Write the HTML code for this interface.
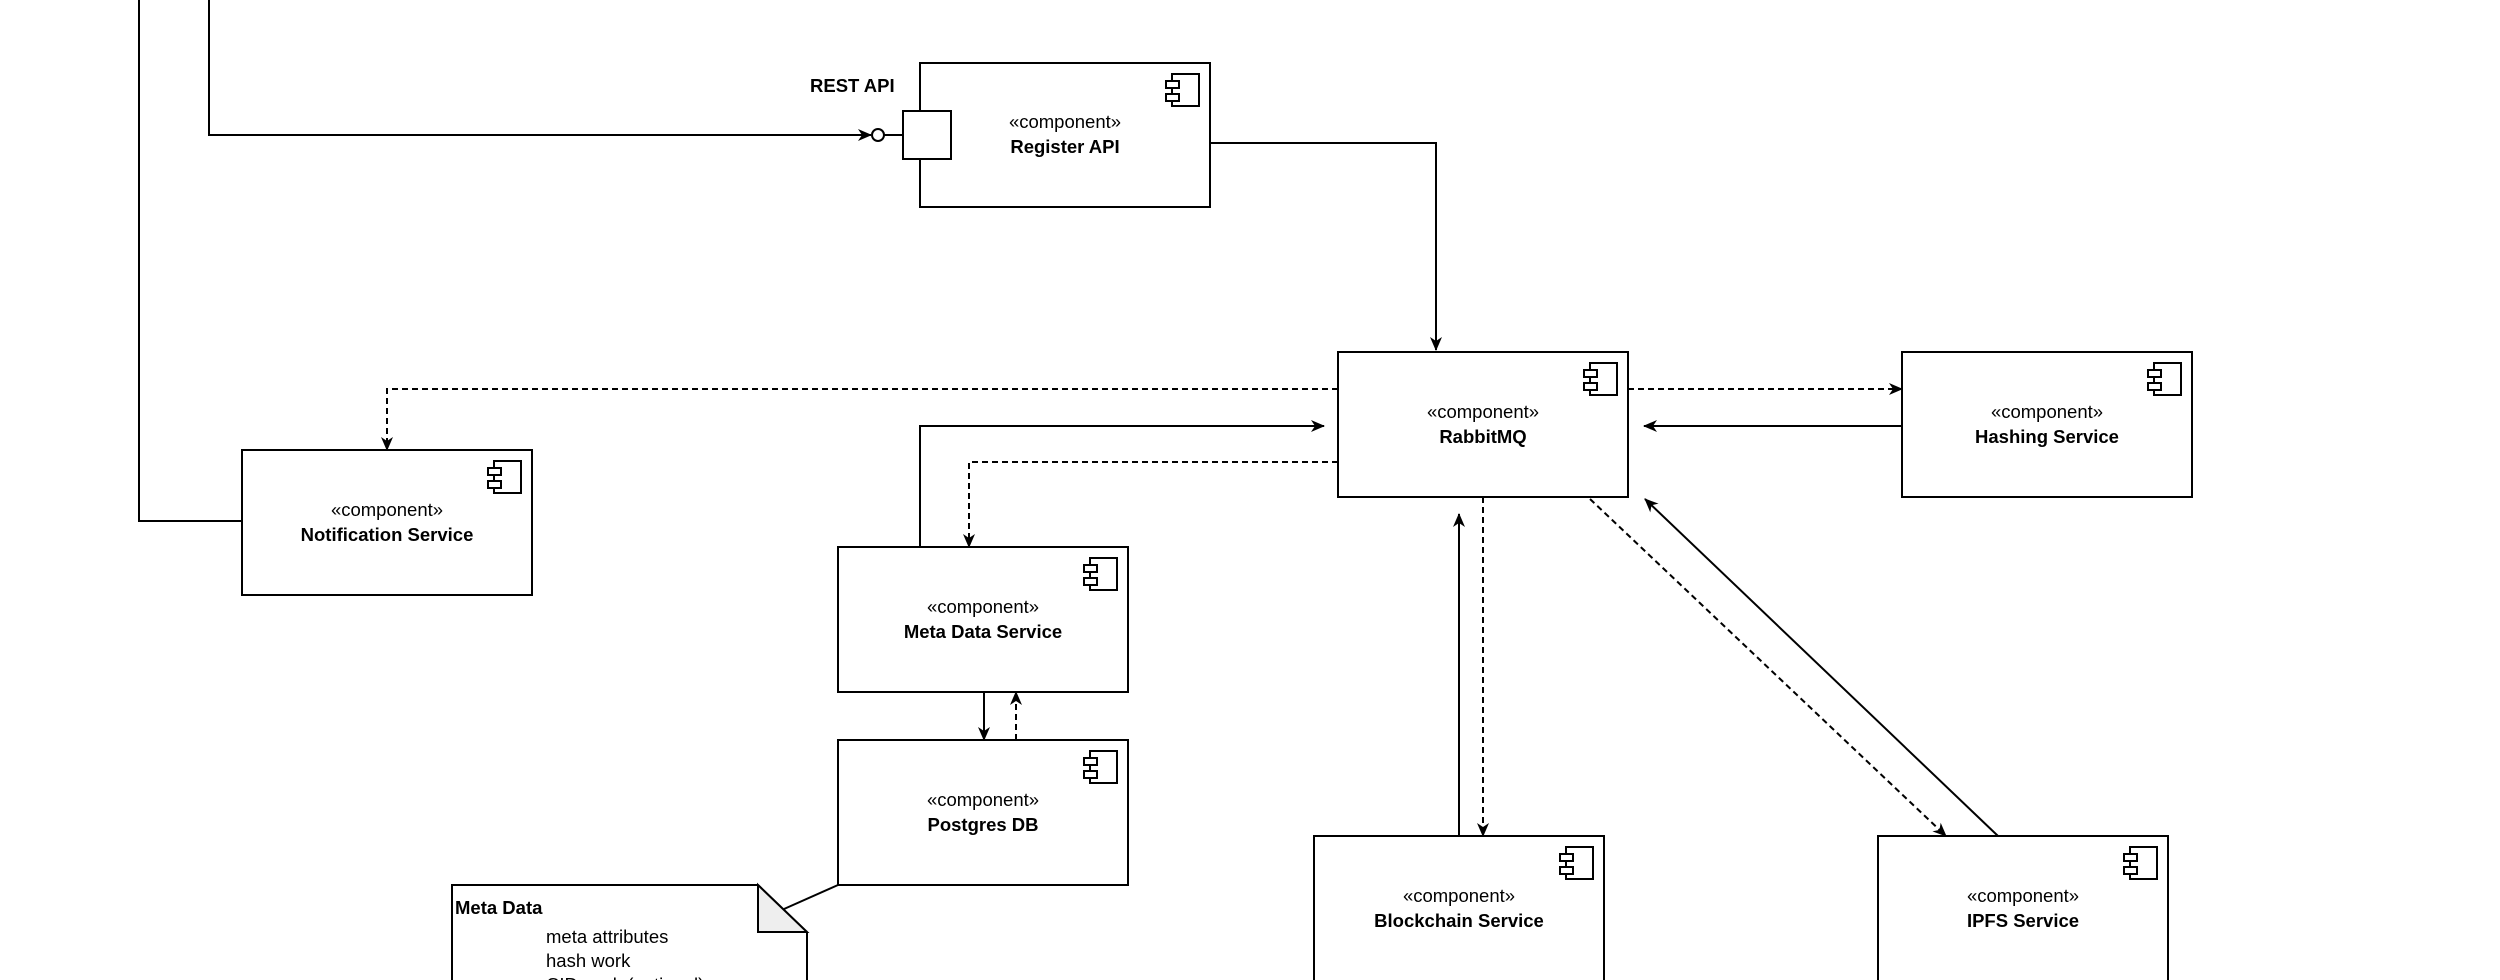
<!DOCTYPE html>
<html><head><meta charset="utf-8"><style>
html,body{margin:0;padding:0;background:#fff;width:2500px;height:980px;overflow:hidden}
text{font-family:"Liberation Sans",Arial,sans-serif;fill:#000}
</style></head><body>
<svg width="2500" height="980" viewBox="0 0 2500 980" xmlns="http://www.w3.org/2000/svg">
<defs>
<marker id="a" markerWidth="16" markerHeight="16" refX="14" refY="8" orient="auto" markerUnits="userSpaceOnUse">
<path d="M1,2 L15,8 L1,14 L5,8 Z" fill="#000"/>
</marker>
<g id="icon">
<rect x="-38" y="11" width="27" height="32" fill="#fff" stroke="#000" stroke-width="2"/>
<rect x="-44" y="18" width="13" height="7" fill="#fff" stroke="#000" stroke-width="2"/>
<rect x="-44" y="31" width="13" height="7" fill="#fff" stroke="#000" stroke-width="2"/>
</g>
</defs>
<g fill="none" stroke="#000" stroke-width="2">
<polyline points="209,0 209,135 871,135" marker-end="url(#a)"/>
<polyline points="139,0 139,521 242,521"/>
<line x1="884" y1="135" x2="903" y2="135"/>
<circle cx="878" cy="135" r="6" fill="#fff"/>
<polyline points="1210,143 1436,143 1436,350" marker-end="url(#a)"/>
<polyline points="1338,389 387,389 387,450" stroke-dasharray="6,4" marker-end="url(#a)"/>
<line x1="1628" y1="389" x2="1902" y2="389" stroke-dasharray="6,4" marker-end="url(#a)"/>
<line x1="1902" y1="426" x2="1644" y2="426" marker-end="url(#a)"/>
<polyline points="920,547 920,426 1324,426" marker-end="url(#a)"/>
<polyline points="1338,462 969,462 969,547" stroke-dasharray="6,4" marker-end="url(#a)"/>
<line x1="984" y1="692" x2="984" y2="740" marker-end="url(#a)"/>
<line x1="1016" y1="740" x2="1016" y2="692" stroke-dasharray="6,4" marker-end="url(#a)"/>
<line x1="1459" y1="836" x2="1459" y2="514" marker-end="url(#a)"/>
<line x1="1483" y1="497" x2="1483" y2="836" stroke-dasharray="6,4" marker-end="url(#a)"/>
<line x1="1590" y1="499" x2="1946" y2="836" stroke-dasharray="6,4" marker-end="url(#a)"/>
<line x1="1998" y1="836" x2="1645" y2="499" marker-end="url(#a)"/>
<line x1="784" y1="909" x2="838" y2="885"/>
</g>
<g stroke="#000" stroke-width="2" fill="#fff">
<rect x="920" y="63" width="290" height="144"/>
<rect x="903" y="111" width="48" height="48"/>
<rect x="242" y="450" width="290" height="145"/>
<rect x="1338" y="352" width="290" height="145"/>
<rect x="1902" y="352" width="290" height="145"/>
<rect x="838" y="547" width="290" height="145"/>
<rect x="838" y="740" width="290" height="145"/>
<rect x="1314" y="836" width="290" height="160"/>
<rect x="1878" y="836" width="290" height="160"/>
<path d="M452,885 L758,885 L807,932 L807,990 L452,990 Z"/>
<path d="M758,885 L758,932 L807,932 Z" fill="#eee"/>
</g>
<use href="#icon" transform="translate(1210,63)"/>
<use href="#icon" transform="translate(532,450)"/>
<use href="#icon" transform="translate(1628,352)"/>
<use href="#icon" transform="translate(2192,352)"/>
<use href="#icon" transform="translate(1128,547)"/>
<use href="#icon" transform="translate(1128,740)"/>
<use href="#icon" transform="translate(1604,836)"/>
<use href="#icon" transform="translate(2168,836)"/>
<g font-size="18.5" text-anchor="middle">
<text x="1065" y="128">«component»</text><text x="1065" y="153" font-weight="bold">Register API</text>
<text x="387" y="516">«component»</text><text x="387" y="541" font-weight="bold">Notification Service</text>
<text x="1483" y="418">«component»</text><text x="1483" y="443" font-weight="bold">RabbitMQ</text>
<text x="2047" y="418">«component»</text><text x="2047" y="443" font-weight="bold">Hashing Service</text>
<text x="983" y="613">«component»</text><text x="983" y="638" font-weight="bold">Meta Data Service</text>
<text x="983" y="806">«component»</text><text x="983" y="831" font-weight="bold">Postgres DB</text>
<text x="1459" y="902">«component»</text><text x="1459" y="927" font-weight="bold">Blockchain Service</text>
<text x="2023" y="902">«component»</text><text x="2023" y="927" font-weight="bold">IPFS Service</text>
</g>
<text x="810" y="92" font-size="18.5" font-weight="bold">REST API</text>
<text x="455" y="914" font-size="18.5" font-weight="bold">Meta Data</text>
<text x="546" y="943" font-size="18.5">meta attributes</text>
<text x="546" y="967" font-size="18.5">hash work</text>
<text x="546" y="991" font-size="18.5">CID work (optional)</text>
</svg>
</body></html>
